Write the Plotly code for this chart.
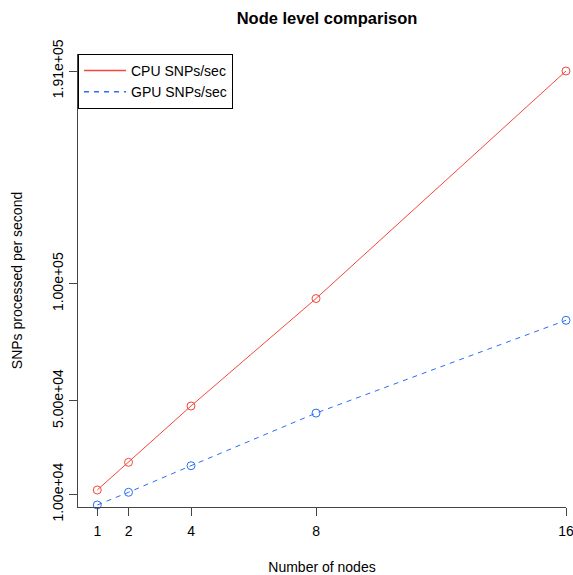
import plotly.graph_objects as go

nodes = [1, 2, 4, 8, 16]
cpu_snps = [11840, 23680, 47760, 93700, 191000]
gpu_snps = [5430, 10860, 22230, 44720, 84400]
x_ticks = [1, 2, 4, 8, 16]
y_ticks = [10000, 50000, 100000, 191000]
y_tick_labels = ["1.00e+04", "5.00e+04", "1.00e+05", "1.91e+05"]

RED = "#F5473B"
BLUE = "#2B6CF4"
FONT = "Liberation Sans, Arial, sans-serif"

fig = go.Figure()
fig.add_trace(go.Scatter(
    x=nodes, y=cpu_snps, mode="lines+markers", showlegend=False,
    line=dict(color=RED, width=1),
    marker=dict(symbol="circle-open", size=8, color=RED, line=dict(width=1, color=RED)),
    cliponaxis=False))
fig.add_trace(go.Scatter(
    x=nodes, y=gpu_snps, mode="lines+markers", showlegend=False,
    line=dict(color=BLUE, width=1, dash="5px,5px"),
    marker=dict(symbol="circle-open", size=8, color=BLUE, line=dict(width=1, color=BLUE)),
    cliponaxis=False))
# legend entries (lines only, as in the original)
fig.add_trace(go.Scatter(x=[None], y=[None], mode="lines", name="CPU SNPs/sec",
                         line=dict(color=RED, width=1.5)))
fig.add_trace(go.Scatter(x=[None], y=[None], mode="lines", name="GPU SNPs/sec",
                         line=dict(color=BLUE, width=1.5, dash="5px,5px")))

W, H = 573, 575
L, R, T, B = 78, 7, 54, 68

fig.update_layout(
    width=W, height=H,
    margin=dict(l=L, r=R, t=T, b=B),
    paper_bgcolor="white", plot_bgcolor="white",
    font=dict(family=FONT, size=14, color="black"),
    title=dict(text="<b>Node level comparison</b>", font=dict(size=16.5, color="black"),
               x=(327 - L) / (W - L - R), xref="paper", xanchor="center",
               y=1 - 18.5 / H, yref="container", yanchor="middle"),
    legend=dict(x=0, y=1, xanchor="left", yanchor="top",
                bordercolor="black", borderwidth=1, bgcolor="white",
                font=dict(size=14), itemwidth=42, entrywidth=118, tracegroupgap=0),
)
fig.update_xaxes(
    range=[0.383, 16.0], tickvals=x_ticks, ticktext=[str(v) for v in x_ticks],
    showgrid=False, zeroline=False, showline=True, linecolor="#444", linewidth=1,
    ticks="outside", ticklen=8, tickcolor="#444", ticklabeloverflow="allow",
    ticklabelstandoff=3,
    title=dict(text="Number of nodes", standoff=28, font=dict(size=14)),
    automargin=False)
fig.update_yaxes(
    range=[4570, 198270], tickvals=y_ticks, ticktext=y_tick_labels, tickangle=-90,
    showgrid=False, zeroline=False, showline=True, linecolor="#444", linewidth=1,
    ticks="outside", ticklen=8, tickcolor="#444", ticklabeloverflow="allow",
    title=dict(text="SNPs processed per second", standoff=24, font=dict(size=14)),
    automargin=False)

fig.write_html("out.html", config={"displayModeBar": False},
               post_script="document.body.style.margin='0';")
